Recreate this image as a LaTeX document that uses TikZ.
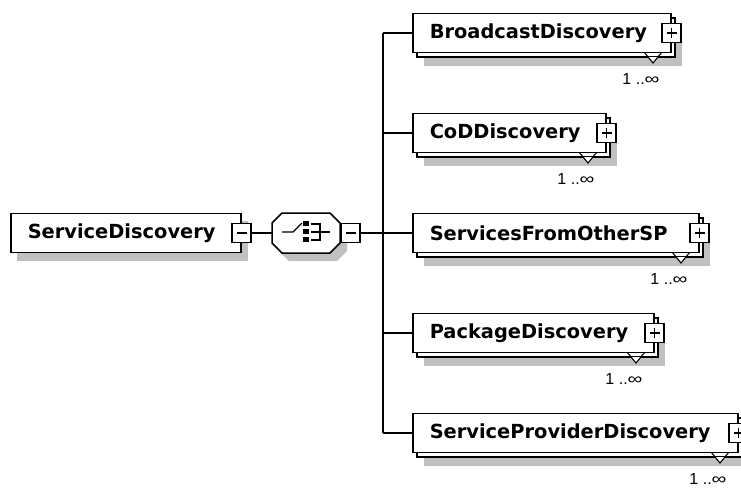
\documentclass[tikz,border=0pt]{standalone}
\usepackage{fontspec}
\usepackage{graphicx}
\newfontfamily\lblfont{DejaVu Sans}
\newfontfamily\cardfont{Liberation Sans}
\definecolor{shadegray}{RGB}{192,192,192}
\tikzset{
  shadowfill/.style={fill=shadegray, draw=none},
  boxline/.style={draw=black, line width=1.5pt},
  elbox/.style={boxline, fill=white, rectangle, anchor=west, inner xsep=17pt, inner ysep=0pt,
    minimum height=39pt, font=\lblfont\bfseries\fontsize{19.4}{22}\selectfont},
  pmbox/.style={boxline, fill=white, rectangle, minimum width=19pt, minimum height=19pt, inner sep=0pt},
  pmsign/.style={line width=1.3pt},
  conn/.style={line width=1.5pt},
  card/.style={font=\cardfont\fontsize{16}{18}\selectfont, inner sep=0pt},
  vee/.style={line width=1.1pt}
}
% #1 name, #2 centre y, #3 box width, #4 label width, #5 label
\newcommand\stackel[5]{%
  \fill[shadowfill] (424,#2-7) rectangle (424+#3,#2+33);
  \draw[boxline,fill=white] (417,#2-15) rectangle (417+#3,#2+24);
  \fill[white] (412+#3-17-5,#2+24) -- (412+#3-17,#2+30) -- (412+#3-17+5,#2+24) -- cycle;
  \draw[vee] (412+#3-17-9,#2+19) -- (412+#3-17,#2+30) -- (412+#3-17+9,#2+19);
  \node[elbox] (#1) at (412,#2) {\makebox[#4][l]{#5}};
  \node[pmbox] (#1p) at (#1.east) {};
  \draw[pmsign] ([xshift=-5pt]#1p.center) -- ([xshift=5pt]#1p.center);
  \draw[pmsign] ([yshift=-5pt]#1p.center) -- ([yshift=5pt]#1p.center);
  \node[card] (#1c) at (412+#3-29,#2+46) {1 ..\scalebox{1.3}[1]{∞}};
}
\begin{document}
\begin{tikzpicture}[x=1pt,y=-1pt]
\useasboundingbox (0,0) rectangle (741,488);
\fill[white] (0,0) rectangle (741,488);

% root element
\fill[shadowfill] (17,221) rectangle (248,261);
\node[elbox] (sd) at (10,233) {\makebox[196pt][l]{ServiceDiscovery}};
\node[pmbox] (sdm) at (sd.east) {};
\draw[pmsign] ([xshift=-5pt]sdm.center) -- ([xshift=5pt]sdm.center);

% choice compositor
\fill[shadowfill] (289,221) -- (337,221) -- (347,231) -- (347,251) -- (337,261) -- (289,261) -- (279,251) -- (279,231) -- cycle;
\draw[boxline,fill=white] (282,213) -- (330,213) -- (340,223) -- (340,243) -- (330,253) -- (282,253) -- (272,243) -- (272,223) -- cycle;
\node[draw=none, minimum width=68pt, minimum height=40pt, inner sep=0pt] (ch) at (306,233) {};
\draw[line width=1.2pt] (282,232) -- (293,232) -- (302,223);
\fill (303,221) rectangle (309,226);
\fill (303,229) rectangle (309,234);
\fill (303,237) rectangle (309,242);
\draw[line width=1.2pt] (311,224) -- (320,224) -- (320,240) -- (311,240);
\draw[line width=1.2pt] (311,232) -- (330,232);
\node[pmbox] (chm) at (350.5,233) {};
\draw[pmsign] ([xshift=-5pt]chm.center) -- ([xshift=5pt]chm.center);

% children
\stackel{bd}{33}{258}{224pt}{BroadcastDiscovery}
\stackel{cd}{133}{193}{159pt}{CoDDiscovery}
\stackel{so}{233}{286}{252pt}{ServicesFromOtherSP}
\stackel{pd}{333}{241}{207pt}{PackageDiscovery}
\stackel{sp}{433}{325}{291pt}{ServiceProviderDiscovery}

% connectors
\coordinate (bustop) at (383,33);
\coordinate (busbot) at (383,433);
\draw[conn] (sdm.east) -- (ch.west);
\draw[conn] (ch.east) -- (chm.west);
\draw[conn] (chm.east) -- (chm.east -| bustop);
\draw[conn] (bustop) -- (busbot);
\draw[conn] (bustop) -- (bd.west);
\draw[conn] (cd.west -| bustop) -- (cd.west);
\draw[conn] (so.west -| bustop) -- (so.west);
\draw[conn] (pd.west -| bustop) -- (pd.west);
\draw[conn] (busbot) -- (sp.west);
\end{tikzpicture}
\end{document}
